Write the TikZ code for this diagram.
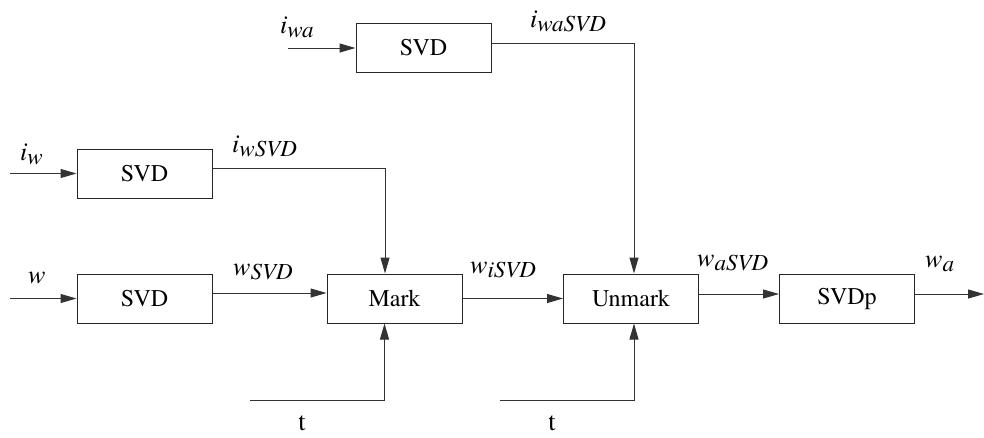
\documentclass[tikz,border=0pt]{standalone}
\usepackage{fontspec}
\setmainfont{TeX Gyre Termes}
\usetikzlibrary{arrows.meta}
\newcommand\lbl[2]{{\fontsize{26}{26}\selectfont\itshape #1}\raisebox{-0.42em}{\fontsize{23}{23}\selectfont\itshape #2}}
\begin{document}
\begin{tikzpicture}[x=1pt,y=-1pt,
  blk/.style={draw=black!85,line width=1pt,minimum width=135pt,minimum height=49pt,inner sep=0pt,font=\fontsize{24}{24}\selectfont},
  conn/.style={draw=black!80,line width=1pt,-{Triangle[length=16pt,width=9pt]}},
  lab/.style={inner sep=0pt,anchor=base west}]
\useasboundingbox (0,0) rectangle (984,437);
% boxes
\node[blk] (svdT) at (423.5,48) {SVD};
\node[blk] (svdI) at (144.5,173.5) {SVD};
\node[blk] (svdW) at (144.5,298.5) {SVD};
\node[blk] (mark) at (394.5,298.5) {Mark};
\node[blk] (unmark) at (631,298.5) {Unmark};
\node[blk] (svdp) at (847,298.5) {SVDp};
% free ends
\coordinate (iwaIn) at (288,48);
\coordinate (iwIn) at (10,173.5);
\coordinate (wIn) at (10,298.5);
\coordinate (out) at (984,294);
\coordinate (t1) at (250,400);
\coordinate (t2) at (500,400);
% connectors
\draw[conn] (iwaIn) -- (svdT.west);
\draw[conn] ([yshift=5pt]svdT.east) -| ([xshift=3pt]unmark.north);
\draw[conn] (iwIn) -- (svdI.west);
\draw[conn] ([yshift=5.5pt]svdI.east) -| ([xshift=-9.5pt]mark.north);
\draw[conn] (wIn) -- (svdW.west);
\draw[conn] ([yshift=5.5pt]svdW.east) -- ([yshift=5.5pt]mark.west);
\draw[conn] (mark.east) -- (unmark.west);
\draw[conn] ([yshift=4.5pt]unmark.east) -- ([yshift=4.5pt]svdp.west);
\draw[conn] ([yshift=4.5pt]svdp.east) -- (out);
\draw[conn] (t1) -| ([xshift=-10pt]mark.south);
\draw[conn] (t2) -| ([xshift=3pt]unmark.south);
% labels
\node[lab] (Liwa) at (280,33) {\lbl{i}{wa}};
\node[lab] (LiwaSVD) at (530,27) {\lbl{i}{waSVD}};
\node[lab] (Liw) at (20,160) {\lbl{i}{w}};
\node[lab] (LiwSVD) at (232,152) {\lbl{i}{wSVD}};
\node[lab] (Lw) at (28,283) {\lbl{w}{}};
\node[lab] (LwSVD) at (233,275) {\lbl{w}{SVD}};
\node[lab] (LwiSVD) at (470,273) {\lbl{w}{iSVD}};
\node[lab] (LwaSVD) at (697,266) {\lbl{w}{aSVD}};
\node[lab] (Lwa) at (925,267) {\lbl{w}{a}};
\node[inner sep=0pt,anchor=base,font=\fontsize{26}{26}\selectfont] (Lt1) at (302,430) {t};
\node[inner sep=0pt,anchor=base,font=\fontsize{26}{26}\selectfont] (Lt2) at (552,430) {t};
\end{tikzpicture}
\end{document}
